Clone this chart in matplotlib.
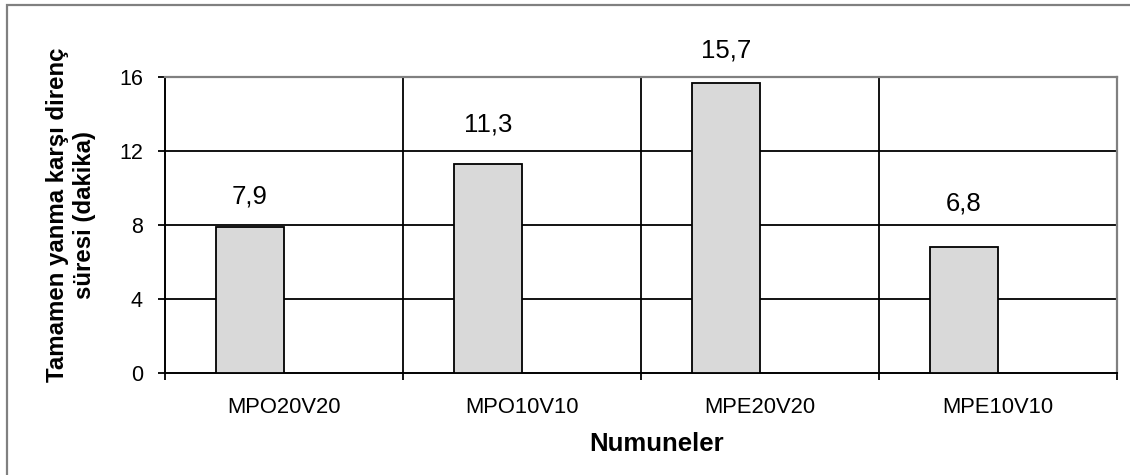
import numpy as np
import matplotlib
matplotlib.use("Agg")
import matplotlib.pyplot as plt
from matplotlib.patches import Rectangle

# data
samples = ['MPO20V20', 'MPO10V10', 'MPE20V20', 'MPE10V10']
times = [7.9, 11.3, 15.7, 6.8]
y_ticks = [0, 4, 8, 12, 16]

# baseline of each value label (data units)
label_y = [9.14, 13.08, 17.08, 8.81]

plt.rcParams['font.family'] = ['Liberation Sans', 'DejaVu Sans']

W, H = 1130, 475
fig = plt.figure(figsize=(W / 100, H / 100), dpi=100)
ax = fig.add_axes([165 / W, (H - 373) / H, 952 / W, 296 / H])

# outer chart border (only top/left show in the original)
fig.patches.append(Rectangle((6.5 / W, -0.1), 1.2, (H - 5) / H + 0.1,
                             transform=fig.transFigure, fill=False,
                             edgecolor='#808080', linewidth=1.6))

x = np.arange(len(samples))
w = 1 / 3.5
ax.bar(x - w, times, width=w, align='edge', color='#d9d9d9',
       edgecolor='black', linewidth=1.3, zorder=3)

for xi, v, ly in zip(x, times, label_y):
    ax.text(xi - w / 2, ly, f'{v:.1f}'.replace('.', ','), ha='center',
            va='baseline', fontsize=18.5, clip_on=False)

ax.set_xlim(-0.5, len(samples) - 0.5)
ax.set_ylim(0, 16)
ax.set_yticks(y_ticks)
ax.set_yticklabels([str(t) for t in y_ticks], fontsize=15.5)

# category boundaries as major ticks, names on minor ticks
ax.set_xticks(np.arange(len(samples) + 1) - 0.5)
ax.set_xticklabels([])
ax.set_xticks(x, minor=True)
ax.set_xticklabels(samples, minor=True, fontsize=15.8)
ax.tick_params(axis='x', which='minor', length=0, pad=17)
ax.tick_params(axis='x', which='major', length=5, width=1.3, direction='out')
ax.tick_params(axis='y', length=5, width=1.3, direction='out', pad=11)

for yv in y_ticks[1:-1]:
    ax.axhline(yv, color='black', linewidth=1.3, zorder=1)
for xv in x[:-1] + 0.5:
    ax.axvline(xv, color='black', linewidth=1.3, zorder=1)

for side in ['left', 'bottom']:
    ax.spines[side].set_color('black')
    ax.spines[side].set_linewidth(1.4)
for side in ['top', 'right']:
    ax.spines[side].set_color('#808080')
    ax.spines[side].set_linewidth(1.6)

fig.text(71 / W, 1 - 215 / H, 'Tamamen yanma karşı direnç\nsüresi (dakika)',
         rotation=90, ha='center', va='center', multialignment='center',
         fontsize=17.3, fontweight='bold', linespacing=1.25)
fig.text(657 / W, 1 - 444 / H, 'Numuneler', ha='center', va='center',
         fontsize=18.5, fontweight='bold')

fig.savefig('out.png', dpi=100)
